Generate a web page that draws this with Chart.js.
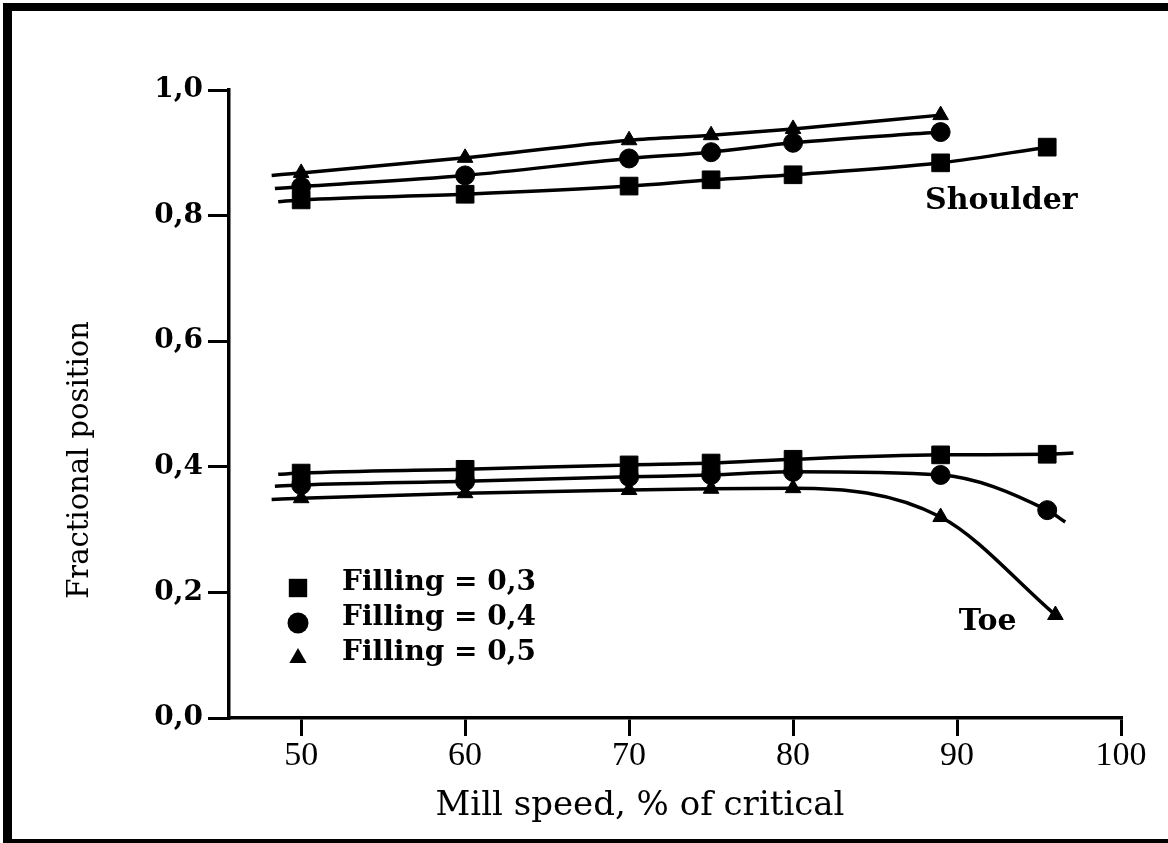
<!DOCTYPE html>
<html>
<head>
<meta charset="utf-8">
<script src="https://cdn.jsdelivr.net/npm/chart.js@4/dist/chart.umd.min.js"></script>
<style>
  html, body { margin: 0; padding: 0; background: #fff; }
  #wrap { position: relative; width: 1168px; height: 843px; overflow: hidden; background: #fff; }
  #c { position: absolute; left: 0; top: 0; }
  #frame {
    position: absolute; left: 3px; top: 3px; width: 1200px; height: 845px;
    border: solid #000; border-width: 8px 0 9px 9px; box-sizing: border-box; pointer-events: none;
  }
</style>
</head>
<body>
<div id="wrap">
  <canvas id="c" width="1168" height="843"></canvas>
  <div id="frame"></div>
</div>
<script>
// Mill speed (% of critical) at which positions were measured
const speeds = [50, 60, 70, 75, 80, 89, 95.5];
const speedsToe05 = [50, 60, 70, 75, 80, 89, 96];

// Shoulder position (fraction of revolution) per filling level
const shoulderF03 = [0.825, 0.834, 0.847, 0.857, 0.865, 0.884, 0.909];
const shoulderF04 = [0.846, 0.864, 0.891, 0.901, 0.916, 0.933];
const shoulderF05 = [0.868, 0.892, 0.920, 0.928, 0.938, 0.960];

// Toe position per filling level
const toeF03 = [0.390, 0.396, 0.403, 0.406, 0.412, 0.419, 0.420];
const toeF04 = [0.371, 0.377, 0.384, 0.387, 0.392, 0.387, 0.331];
const toeF05 = [0.350, 0.358, 0.363, 0.365, 0.366, 0.320, 0.164];

// Where the fitted curves begin and end beyond the measured points
const shoulderStartX = [48.6, 48.4, 48.2];
const shoulderStartY = [0.822, 0.843, 0.864];
const toeStartX = [48.6, 48.4, 48.2];
const toeStartY = [0.388, 0.369, 0.348];
const toeEndX = [97.1, 96.6];
const toeEndY = [0.422, 0.312];

// Axis ticks and text
const xTickValues = [50, 60, 70, 80, 90, 100];
const yTickValues = [0, 0.2, 0.4, 0.6, 0.8, 1.0];
const xTitle = 'Mill speed, % of critical';
const yTitle = 'Fractional position';
const seriesNames = ['Filling = 0,3', 'Filling = 0,4', 'Filling = 0,5'];
const seriesStyles = ['rect', 'circle', 'triangle'];

const pts = (xs, ys) => ys.map((v, i) => ({ x: xs[i], y: v }));

function curve(xs, ys, sx, sy, ex, ey) {
  const d = [{ x: sx, y: sy }].concat(pts(xs, ys));
  if (ex !== undefined) d.push({ x: ex, y: ey });
  return {
    data: d, showLine: true, pointRadius: 0, borderColor: '#000', borderWidth: 3.5,
    cubicInterpolationMode: 'monotone', fill: false, order: 2
  };
}
function markers(xs, ys, style) {
  const r = style === 'rect' ? 12.5 : style === 'circle' ? 9.5 : 9;
  return {
    data: pts(xs, ys), showLine: false, pointStyle: style, pointRadius: r,
    backgroundColor: '#000', borderColor: '#000', borderWidth: 1, order: 1
  };
}

const datasets = [
  curve(speeds, shoulderF03, shoulderStartX[0], shoulderStartY[0]),
  curve(speeds, shoulderF04, shoulderStartX[1], shoulderStartY[1]),
  curve(speeds, shoulderF05, shoulderStartX[2], shoulderStartY[2]),
  curve(speeds, toeF03, toeStartX[0], toeStartY[0], toeEndX[0], toeEndY[0]),
  curve(speeds, toeF04, toeStartX[1], toeStartY[1], toeEndX[1], toeEndY[1]),
  curve(speedsToe05, toeF05, toeStartX[2], toeStartY[2]),
  markers(speeds, shoulderF03, 'rect'),
  markers(speeds, shoulderF04, 'circle'),
  markers(speeds, shoulderF05, 'triangle'),
  markers(speeds, toeF03, 'rect'),
  markers(speeds, toeF04, 'circle'),
  markers(speedsToe05, toeF05, 'triangle')
];

// Titles, in-plot legend and the Shoulder / Toe labels
const figureText = {
  id: 'figureText',
  afterDraw(chart) {
    const { ctx, chartArea: a, scales: { x, y } } = chart;
    ctx.save();
    ctx.fillStyle = '#000';
    ctx.strokeStyle = '#000';

    ctx.font = '34px "DejaVu Serif"';
    ctx.textAlign = 'center';
    ctx.textBaseline = 'middle';
    ctx.fillText(xTitle, a.left + 411, a.bottom + 88);

    ctx.save();
    ctx.font = '29px "DejaVu Serif"';
    ctx.translate(80, a.top + 370);
    ctx.rotate(-Math.PI / 2);
    ctx.fillText(yTitle, 0, 0);
    ctx.restore();

    // legend
    const sizes = { rect: 13, circle: 10.5, triangle: 10 };
    ctx.font = 'bold 28px "DejaVu Serif"';
    ctx.textAlign = 'left';
    seriesNames.forEach((name, i) => {
      const ty = a.top + 493 + i * 35;
      Chart.helpers.drawPoint(ctx, {
        pointStyle: seriesStyles[i], radius: sizes[seriesStyles[i]], rotation: 0, borderWidth: 0
      }, a.left + 69, ty + 5);
      ctx.fillText(name, a.left + 113, ty);
    });

    ctx.font = 'bold 30px "DejaVu Serif"';
    ctx.fillText('Shoulder', x.getPixelForValue(88.05), y.getPixelForValue(0.823));
    ctx.fillText('Toe', x.getPixelForValue(90.1), y.getPixelForValue(0.153));
    ctx.restore();
  }
};

new Chart(document.getElementById('c'), {
  type: 'scatter',
  data: { datasets },
  plugins: [figureText],
  options: {
    responsive: false,
    animation: false,
    devicePixelRatio: 1,
    layout: { padding: { left: 0, top: 90, right: 47, bottom: 0 } },
    plugins: { legend: { display: false }, tooltip: { enabled: false } },
    scales: {
      x: {
        type: 'linear', min: 45.6, max: 100,
        afterBuildTicks: s => { s.ticks = xTickValues.map(v => ({ value: v })); },
        afterFit: s => { s.height = 125; },
        border: { display: true, color: '#000', width: 3.5 },
        grid: { drawOnChartArea: false, drawTicks: true, tickLength: 18, color: '#000', lineWidth: 3 },
        ticks: {
          color: '#000', padding: 3, maxRotation: 0, autoSkip: false,
          font: { family: '"Liberation Serif"', size: 34, lineHeight: 1 },
          callback: v => String(v)
        }
      },
      y: {
        type: 'linear', min: 0, max: 1,
        afterBuildTicks: s => { s.ticks = yTickValues.map(v => ({ value: v })); },
        afterFit: s => { s.width = 229; },
        border: { display: true, color: '#000', width: 3.5 },
        grid: { drawOnChartArea: false, drawTicks: true, tickLength: 21, color: '#000', lineWidth: 3 },
        ticks: {
          color: '#000', padding: 5, autoSkip: false,
          font: { family: '"DejaVu Serif"', size: 28, weight: 'bold', lineHeight: 1 },
          callback: v => v.toFixed(1).replace('.', ',')
        }
      }
    }
  }
});
</script>
</body>
</html>
